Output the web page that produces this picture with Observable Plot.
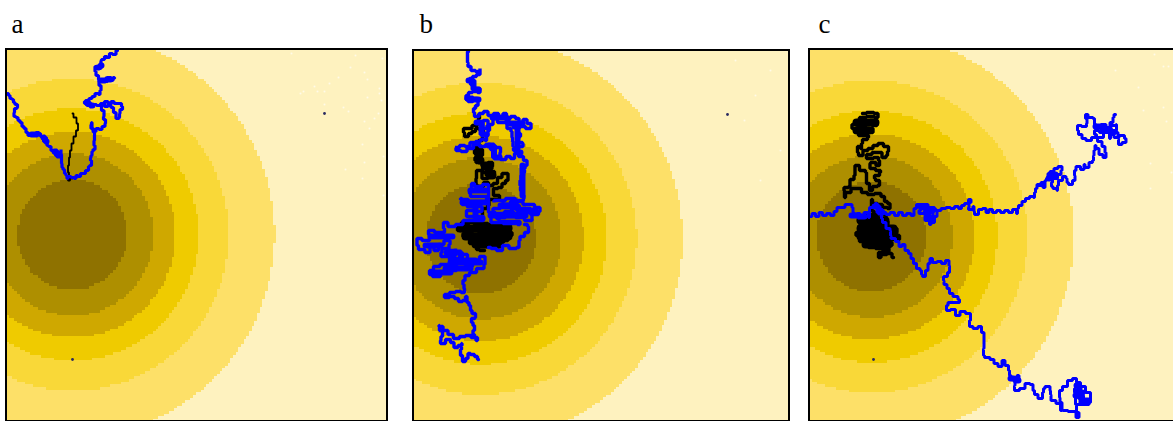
<!DOCTYPE html>
<html><head><meta charset="utf-8">
<style>html,body{margin:0;padding:0;background:#fff}svg{display:block}</style>
<script src="https://cdn.jsdelivr.net/npm/d3@7"></script>
<script src="https://cdn.jsdelivr.net/npm/@observablehq/plot@0.6"></script>
</head><body><div id="chart"></div>
<script>
const panelLabels = ["a","b","c"];
const labelX = [11,419,818];
const frameLeft = [6,413,809];
const frameRight = [387,789,1185];
const frameTop = [49,50,49];
const centerX = [72,480,871];
const centerY = [234,238,236];
const ringRadii = [55,81,103,126,156,202];
const ringColors = ["#8f7200","#ae8f00","#cfa800","#efcb00","#f9d838","#fde068","#fef2bf"];
const darkSpots = [[324,113],[72,359],[727,114],[873,359]];
const whiteSpecks = [[291,53],[355,55],[382,58],[350,67],[364,72],[338,77],[367,79],[329,83],[314,86],[303,91],[300,93],[317,91],[324,91],[379,88],[379,93],[367,97],[381,100],[324,104],[343,107],[348,111],[378,113],[374,118],[364,121],[369,128],[362,144],[383,156],[364,162],[345,169],[362,178],[383,195],
 [1143,110],[1163,107],[1166,121],[1150,163],[1150,188],[1171,172],[1154,54],[1163,66],[1168,66],[1115,70],[1138,87],[744,120],[770,70],[755,95],[780,150],[760,180],[735,60]];

const blueA = [[7,93],[9,95],[10,98],[13,99],[13,102],[16,104],[18,107],[15,108],[13,112],[14,116],[17,117],[18,120],[21,122],[22,126],[25,128],[26,132],[29,135],[31,133],[34,134],[37,132],[40,133],[40,136],[43,136],[44,141],[47,141],[46,145],[50,146],[51,150],[54,150],[55,154],[58,156],[60,152],[61,149],[60,154],[62,157],[60,160],[62,163],[61,167],[64,169],[64,173],[67,175],[66,178],[69,176],[72,177],[75,178],[76,175],[79,176],[81,173],[84,173],[86,170],[89,170],[87,166],[91,165],[91,160],[89,157],[92,155],[91,151],[94,149],[95,145],[92,143],[95,140],[93,135],[95,132],[91,128],[90,124],[92,122],[91,128],[94,131],[97,128],[100,129],[103,126],[106,123],[104,119],[102,116],[105,113],[102,110],[100,106],[102,103],[106,101],[109,105],[112,107],[114,112],[117,118],[120,117],[118,113],[121,109],[123,106],[119,103],[115,103],[112,101],[109,104],[106,106],[102,103],[98,105],[94,104],[88,105],[85,103],[83,101],[87,100],[90,98],[93,96],[96,93],[100,94],[99,90],[102,88],[99,85],[98,80],[102,81],[105,79],[108,77],[113,78],[115,77],[110,80],[104,81],[99,79],[97,75],[94,71],[95,66],[99,68],[102,63],[99,60],[103,59],[105,56],[108,57],[110,53],[114,54],[117,50]];
const blobsA = [[[97,67],[101,65]],[[100,80],[110,79]],[[87,103],[92,105]],[[54,151],[59,155]],[[43,137],[46,141]],[[31,134],[36,134]]];
const blackA = [[72,113],[74,117],[78,123],[77,130],[74,136],[72,143],[70,150],[69,157],[68,165],[67,172],[70,178],[65,180],[73,180],[66,178],[72,178]];

const blueB = [[468,51],[466,54],[468,58],[466,62],[469,66],[472,70],[478,71],[481,68],[478,74],[474,76],[470,78],[468,81],[472,84],[475,88],[479,88],[480,92],[474,91],[470,92],[466,95],[465,99],[470,101],[475,98],[479,100],[476,105],[474,108],[472,112],[476,116],[481,113],[485,111],[490,115],[496,113],[500,117],[505,113],[507,118],[513,116],[517,118],[520,122],[525,119],[528,123],[533,125],[528,128],[522,126],[516,128],[518,133],[522,136],[516,137],[519,142],[525,143],[520,146],[515,150],[511,146],[514,141],[510,137],[513,131],[508,128],[505,122],[499,122],[495,118],[490,124],[485,120],[480,124],[485,128],[488,125],[490,130],[485,135],[487,140],[482,139],[478,141],[472,142],[467,146],[462,145],[456,147],[453,147],[458,150],[463,151],[470,148],[476,144],[482,146],[488,144],[492,149],[498,147],[502,152],[497,155],[503,159],[508,156],[512,158],[516,153],[520,156],[526,160],[527,165],[522,168],[526,172],[520,175],[521,180],[518,185],[522,190],[521,195],[526,198],[520,200],[510,198],[500,200],
 [487,202],[500,200],[505,204],[515,201],[530,204],[538,207],[541,211],[535,214],[525,208],[515,208],[505,207],[495,208],[490,212],[500,213],[508,211],[518,213],[528,212],[535,218],[528,220],[520,217],[510,216],[500,217],[492,218],[505,221],[515,221],[524,224],[510,223],[495,222],
 [486,212],[490,198],[486,184],[478,186],[470,183],[472,189],[466,193],[474,196],[483,196],[490,198],[482,201],[473,201],[463,199],[457,198],[466,204],[476,206],[485,206],[478,211],[470,210],[462,213],[470,216],[480,216],[486,220],[475,220],[465,220],[460,224],
 [450,226],[445,222],[441,228],[447,232],[438,232],[430,230],[426,234],[433,238],[425,240],[418,238],[415,245],[421,249],[428,252],[431,246],[436,250],[440,244],[447,240],[452,244],[445,248],[438,252],[443,256],[452,250],[458,248],[452,255],[446,260],[456,258],[464,254],[470,258],[462,262],[452,264],[443,264],[436,266],[430,270],[428,274],[436,276],[444,272],[452,270],[460,268],[468,266],[476,262],[482,256],[487,264],[480,268],[472,272],[466,275],[463,280],
 [462,284],[465,288],[463,292],[458,291],[452,292],[446,294],[442,295],[446,297],[452,296],[456,298],[460,301],[464,300],[466,296],[467,302],[470,305],[470,310],[473,313],[477,317],[472,318],[470,322],[475,325],[473,330],[472,334],[476,337],[478,340],[473,337],[468,335],[462,336],[456,338],[450,334],[445,330],[440,326],[437,325],[441,330],[443,336],[438,340],[442,343],[448,339],[452,342],[455,347],[460,345],[463,343],[459,349],[461,355],[463,361],[467,358],[468,353],[472,354],[476,356],[478,359]];
const blueB2 = [[524,224],[530,226],[526,232],[522,236],[517,240],[520,247],[512,248],[505,245],[499,250],[493,248],[488,247]];
const blobsB = [[[468,80],[478,89]],[[467,98],[478,99]],[[492,117],[522,123]],[[514,126],[520,152]],[[488,145],[499,157]],[[476,122],[486,134]],[[468,205],[482,218]],[[430,236],[452,236]],[[446,252],[475,260]],[[432,272],[450,272]],[[470,190],[485,190]],[[462,202],[485,202]],[[500,205],[535,210]],[[490,215],[525,215]],[[425,245],[440,245]],[[445,268],[470,268]],[[450,262],[480,262]],[[522,165],[522,195]]];
const blackB = [[478,115],[480,118],[476,122],[478,125],[473,125],[470,128],[464,128],[462,132],[466,136],[470,133],[473,131],[477,128],[482,130],[484,136],[480,140],[476,143],[480,146],[475,149],[473,153],[478,152],[482,149],[482,155],[476,157],[473,160],[478,162],[483,160],[480,165],[485,164],[490,162],[494,166],[489,168],[484,168],[480,172],[486,172],[492,171],[496,174],[490,176],[485,178],[478,170],[474,174],[478,178],[473,181],[478,184],[475,188],[480,186],[486,182],[490,185],[495,183],[499,177],[504,173],[508,173],[507,180],[503,183],[500,187],[495,188],[491,192],[495,195],[500,195],[498,199],[492,199],[487,200],[490,205],[484,208],[480,212],[484,216],[480,220],
 [456,224],[466,222],[480,223],[495,224],[508,225],[512,228],[500,228],[488,227],[472,227],[458,227],[456,230],[470,230],[485,231],[500,231],[513,232],[510,235],[495,234],[480,234],[465,233],[460,236],[475,237],[490,237],[505,238],[510,240],[498,241],[483,240],[468,240],[470,243],[485,243],[500,244],[505,246],[490,246],[478,246],[474,249],[484,250]];
const blackBlobsB = [[[460,228],[508,228]],[[465,236],[508,236]],[[475,244],[498,244]],[[476,145],[480,160]],[[484,165],[492,175]]];

const blueC = [[810,216],[813,213],[817,216],[820,212],[824,215],[828,213],[832,215],[835,211],[838,207],[843,207],[846,204],[850,204],[853,207],[852,212],[855,216],[858,213],[861,216],[866,212],[870,214],[866,217],[872,207],[876,206],[880,209],[884,212],[887,214],[892,212],[896,215],[900,212],[904,215],[908,213],[913,215],[914,208],[918,204],[925,204],[930,207],[938,208],[932,210],[924,208],[917,210],[920,213],[928,212],[935,212],[930,216],[923,215],[926,220],[930,219],[928,224],[933,222],[935,216],[938,210],[943,208],[948,207],[952,208],[956,206],[960,208],[962,205],[966,203],[970,199],[971,202],[966,207],[970,209],[975,206],[972,211],[976,214],[980,209],[984,208],[987,212],[990,209],[994,212],[998,210],[1002,212],[1006,210],[1010,212],[1014,209],[1018,213],[1016,208],[1020,205],[1023,201],[1027,198],[1031,196],[1035,197],[1033,192],[1037,188],[1036,184],[1041,185],[1040,182],[1045,187],[1044,180],[1048,178],[1047,173],[1052,171],[1055,168],[1060,166],[1063,170],[1058,174],[1056,178],[1052,176],[1052,182],[1050,186],[1055,188],[1058,190],[1056,185],[1060,180],[1064,176],[1067,178],[1066,182],[1070,184],[1074,180],[1075,175],[1073,170],[1078,166],[1082,169],[1085,169],[1082,164],[1087,167],[1090,162],[1094,160],[1092,155],[1095,150],[1094,145],[1097,148],[1100,154],[1105,157],[1106,152],[1103,146],[1100,141],[1094,137],[1088,140],[1083,138],[1080,134],[1076,130],[1078,125],[1084,126],[1088,123],[1085,118],[1085,114],[1090,117],[1095,118],[1093,124],[1098,127],[1103,124],[1108,127],[1113,125],[1118,124],[1114,130],[1111,135],[1116,137],[1121,135],[1127,138],[1124,142],[1119,144],[1117,138],[1118,132],[1112,133],[1108,138],[1110,132],[1102,132],[1096,130],[1092,134],[1100,137],[1106,130],[1113,122],[1112,117],[1115,114]];
const blueC2 = [[875,203],[878,208],[882,212],[880,218],[884,222],[887,228],[892,230],[888,235],[893,238],[897,241],[900,246],[903,244],[906,250],[910,253],[911,258],[915,263],[917,268],[922,270],[920,274],[924,276],[926,270],[929,263],[930,258],[934,262],[939,261],[943,263],[947,260],[950,265],[948,270],[950,272],[944,276],[942,280],[945,284],[948,288],[950,293],[955,296],[960,299],[958,302],[950,302],[945,305],[947,310],[953,309],[957,315],[962,311],[968,313],[972,315],[968,320],[970,326],[975,328],[980,326],[982,332],[985,338],[982,343],[985,348],[981,355],[987,357],[992,359],[995,363],[1000,366],[1003,360],[1006,365],[1010,370],[1008,375],[1013,377],[1020,375],[1017,381],[1012,385],[1016,390],[1022,388],[1027,383],[1032,384],[1033,390],[1035,394],[1040,398],[1044,392],[1042,388],[1047,386],[1052,390],[1048,394],[1053,400],[1058,403],[1062,410],[1061,402],[1058,397],[1060,390],[1064,386],[1070,380],[1074,378],[1078,382],[1082,386],[1088,392],[1092,402],[1085,404],[1080,398],[1076,392],[1072,388],[1078,394],[1072,400],[1078,404],[1085,398],[1074,404],[1078,412],[1079,417],[1072,411],[1063,410]];
const blobsC = [[[851,215],[864,216]],[[874,206],[882,212]],[[920,206],[932,210]],[[925,212],[931,219]],[[1048,178],[1055,174]],[[1095,126],[1110,130]],[[1010,378],[1018,380]],[[1075,395],[1088,400]],[[1076,385],[1082,392]]];
const blackC = [[862,113],[870,112],[877,113],[878,117],[870,116],[862,117],[856,119],[860,122],[866,121],[873,120],[878,122],[875,125],[868,124],[860,125],[853,124],[850,128],[855,128],[862,127],[870,128],[875,129],[870,132],[863,131],[856,132],[860,135],[866,135],[870,137],[864,139],[860,143],[862,148],[858,146],[856,152],[860,155],[865,150],[870,148],[875,145],[880,143],[886,146],[890,148],[886,151],[888,155],[883,157],[880,152],[875,152],[868,154],[864,158],[870,158],[876,157],[880,160],[878,165],[873,162],[867,163],[872,168],[878,170],[882,172],[876,175],[872,178],[878,180],[880,185],[874,186],[870,190],[868,183],[864,178],[868,172],[862,170],[856,165],[853,170],[856,175],[851,179],[848,182],[851,186],[845,187],[842,190],[846,193],[842,197],[848,192],[853,188],[858,188],[864,192],[870,194],[878,193],[883,196],[885,201],[889,203],[890,208],[884,207],[880,204],[874,203],[870,199],[872,205],[870,210],[876,212],[880,215],
 [872,215],[860,214],[884,214],[887,218],[874,218],[860,218],[856,221],[870,222],[885,221],[890,224],[875,225],[860,225],[857,228],[870,228],[885,227],[895,228],[898,232],[885,231],[870,231],[855,232],[856,235],[870,234],[885,234],[900,235],[898,239],[885,238],[870,237],[858,238],[860,241],[872,241],[885,241],[895,242],[888,245],[875,244],[866,244],[870,247],[880,248],[892,248],[885,251],[878,252],[878,257],[883,254],[890,253],[893,257]];
const blackBlobsC = [[[860,220],[885,220]],[[860,228],[893,228]],[[860,236],[895,236]],[[865,244],[888,244]],[[856,122],[875,122]],[[856,130],[868,130]]];

const pathMark = (pts, stroke, strokeWidth) => Plot.line(pts, {x:"0", y:"1", stroke, strokeWidth, curve:"step", strokeLinejoin:"miter"});
const marks = [];
panelLabels.forEach((_, i) => {
  marks.push(Plot.raster({
    x1: frameLeft[i], x2: Math.min(frameRight[i], 1173), y1: frameTop[i], y2: 421,
    pixelSize: 2.66, imageRendering: "pixelated",
    fill: (x, y) => Math.hypot(x - centerX[i], y - centerY[i])
  }));
});
marks.push(Plot.dot(whiteSpecks, {x:"0", y:"1", r:1, fill:"#fffbe8"}));
marks.push(Plot.dot(darkSpots, {x:"0", y:"1", r:1.4, fill:"#2a2a60"}));
marks.push(pathMark(blackA, "#000", 1.8), pathMark(blackB, "#000", 3.4), pathMark(blackC, "#000", 3.4));
for (const b of [...blackBlobsB, ...blackBlobsC]) marks.push(pathMark(b, "#000", 8));
marks.push(pathMark(blueA, "#0000ff", 3.2), pathMark(blueB, "#0000ff", 3.4), pathMark(blueB2, "#0000ff", 3.4), pathMark(blueC, "#0000ff", 3), pathMark(blueC2, "#0000ff", 3));
for (const b of [...blobsA, ...blobsB, ...blobsC]) marks.push(pathMark(b, "#0000ff", 6));
marks.push(Plot.rect(panelLabels, {
  x1:(d,i)=>frameLeft[i], x2:(d,i)=>frameRight[i], y1:(d,i)=>frameTop[i], y2:() => 421,
  fill:"none", stroke:"#000", strokeWidth:2
}));
marks.push(Plot.text(panelLabels, {
  x:(d,i)=>labelX[i], y:() => 32, text:d=>d, textAnchor:"start", lineAnchor:"bottom",
  fontFamily:"Liberation Serif", fontSize:27, fill:"#000"
}));
document.getElementById("chart").append(Plot.plot({
  width:1173, height:421, margin:0,
  x:{domain:[0,1173], range:[0,1173], axis:null},
  y:{domain:[0,421], range:[0,421], axis:null},
  color:{type:"threshold", domain:ringRadii, range:ringColors},
  marks
}));
</script></body></html>
